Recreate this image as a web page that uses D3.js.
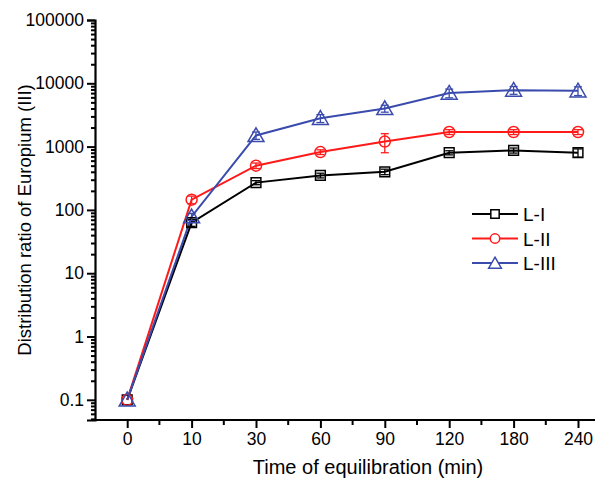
<!DOCTYPE html>
<html>
<head>
<meta charset="utf-8">
<script src="https://cdn.jsdelivr.net/npm/d3@7"></script>
<style>
  body { margin: 0; background: #fff; }
  text { font-family: Arial, "Liberation Sans", sans-serif; }
</style>
</head>
<body>
<div id="chart"></div>
<script>
// categories on the x axis (minutes)
const times = ["0", "10", "30", "60", "90", "120", "180", "240"];

// distribution ratio D(Eu) per ligand
const seriesNames = ["L-I", "L-II", "L-III"];
const valuesL1 = [0.1, 63, 270, 350, 400, 800, 870, 800];
const valuesL2 = [0.1, 145, 500, 820, 1200, 1700, 1700, 1700];
const valuesL3 = [0.1, 78, 1500, 2800, 4000, 7000, 7800, 7600];

// error bar half widths
const errL1 = [0, 8, 20, 30, 40, 60, 80, 120];
const errL2 = [0, 20, 50, 70, 400, 150, 150, 150];
const errL3 = [0, 10, 200, 400, 500, 1100, 1100, 1200];

const yTicks = [0.1, 1, 10, 100, 1000, 10000, 100000];

const colors = ["#000000", "#ff1a1a", "#3a4bad"];
const symbols = [d3.symbolSquare, d3.symbolCircle, d3.symbolTriangle];
const symSize = [95, 95, 110];

const W = 595, H = 481;
var margin = {top: 20, right: 0, bottom: 61, left: 95};
const width = W - margin.left - margin.right;
const height = H - margin.top - margin.bottom;

const svg = d3.select("#chart").append("svg")
    .attr("width", W)
    .attr("height", H);

const g = svg.append("g")
    .attr("transform", "translate(" + margin.left + "," + margin.top + ")");

// x: categorical positions, half a step of padding on the left
const step = 64.4;
const x = d3.scalePoint()
    .domain(times)
    .range([step / 2, step / 2 + step * (times.length - 1)]);

const y = d3.scaleLog()
    .domain([0.048, 100000])
    .range([height, 0]);

const series = [
  {name: seriesNames[0], values: valuesL1, err: errL1},
  {name: seriesNames[1], values: valuesL2, err: errL2},
  {name: seriesNames[2], values: valuesL3, err: errL3}
];

// lines
const line = d3.line()
    .x((d, i) => x(times[i]))
    .y(d => y(d));

series.forEach((s, k) => {
  g.append("path")
    .datum(s.values)
    .attr("fill", "none")
    .attr("stroke", colors[k])
    .attr("stroke-width", 2)
    .attr("d", line);
});

// error bars
series.forEach((s, k) => {
  const eg = g.append("g").attr("stroke", colors[k]).attr("stroke-width", 1.3);
  s.values.forEach((v, i) => {
    const e = s.err[i];
    if (!e) return;
    const cx = x(times[i]);
    const y1 = y(v + e), y0 = y(Math.max(v - e, 0.01));
    eg.append("line").attr("x1", cx).attr("x2", cx).attr("y1", y1).attr("y2", y0);
    eg.append("line").attr("x1", cx - 4).attr("x2", cx + 4).attr("y1", y1).attr("y2", y1);
    eg.append("line").attr("x1", cx - 4).attr("x2", cx + 4).attr("y1", y0).attr("y2", y0);
  });
});

// markers
series.forEach((s, k) => {
  g.selectAll(".m" + k)
    .data(s.values)
    .enter().append("path")
    .attr("class", "m" + k)
    .attr("transform", (d, i) => "translate(" + x(times[i]) + "," + (y(d) + (k === 2 ? 1.5 : 0)) + ")")
    .attr("d", d3.symbol().type(symbols[k]).size(symSize[k]))
    .attr("fill", "none")
    .attr("stroke", colors[k])
    .attr("stroke-width", 1.5);
});

// y axis (major + minor log ticks)
const yAxis = g.append("g")
    .call(d3.axisLeft(y).tickValues(yTicks).tickFormat(d => d3.format("~g")(d)).tickSize(8).tickPadding(3));
const minors = [];
for (let e = -2; e < 5; e++) {
  for (let m = 2; m <= 9; m++) {
    const v = m * Math.pow(10, e);
    if (v >= 0.048 && v <= 100000) minors.push(v);
  }
}
g.append("g")
    .call(d3.axisLeft(y).tickValues(minors).tickFormat("").tickSize(4))
    .call(a => a.select(".domain").remove());

// x axis
const xAxis = g.append("g")
    .attr("transform", "translate(0," + height + ")")
    .call(d3.axisBottom(x).tickSize(8).tickPadding(5).tickSizeOuter(0));
xAxis.select(".domain").attr("d", "M0,0H" + width);
const xMinor = d3.range(times.length).map(i => step * i + step).filter(v => v < width);
xAxis.selectAll(".xminor")
    .data(xMinor)
    .enter().append("line")
    .attr("class", "xminor")
    .attr("x1", d => d).attr("x2", d => d)
    .attr("y1", 0).attr("y2", 5)
    .attr("stroke", "#000").attr("stroke-width", 2);

[yAxis, xAxis].forEach(a => {
  a.select(".domain").attr("stroke-width", 2.2);
  a.selectAll(".tick line").attr("stroke-width", 2);
  a.selectAll("text").attr("font-size", 17.5).attr("fill", "#000")
    .attr("font-family", "Arial, 'Liberation Sans', sans-serif");
});
g.selectAll(".tick line").attr("stroke-width", 2);

// axis titles
svg.append("text")
    .attr("x", 368)
    .attr("y", 474)
    .attr("text-anchor", "middle")
    .attr("font-size", 20)
    .text("Time of equilibration (min)");

svg.append("text")
    .attr("transform", "translate(31,220) rotate(-90)")
    .attr("text-anchor", "middle")
    .attr("font-size", 18.5)
    .text("Distribution ratio of Europium (III)");

// legend
const legend = svg.append("g").attr("transform", "translate(472,214)");
series.forEach((s, k) => {
  const row = legend.append("g").attr("transform", "translate(0," + (k * 24.5) + ")");
  row.append("line")
    .attr("x1", 0).attr("x2", 46)
    .attr("stroke", colors[k]).attr("stroke-width", 2);
  row.append("path")
    .attr("transform", "translate(23," + (k === 2 ? 1.5 : 0) + ")")
    .attr("d", d3.symbol().type(symbols[k]).size(70))
    .attr("fill", "#fff")
    .attr("stroke", colors[k])
    .attr("stroke-width", 1.5);
  row.append("text")
    .attr("x", 51).attr("y", 7)
    .attr("font-size", 19)
    .text(s.name);
});
</script>
</body>
</html>
